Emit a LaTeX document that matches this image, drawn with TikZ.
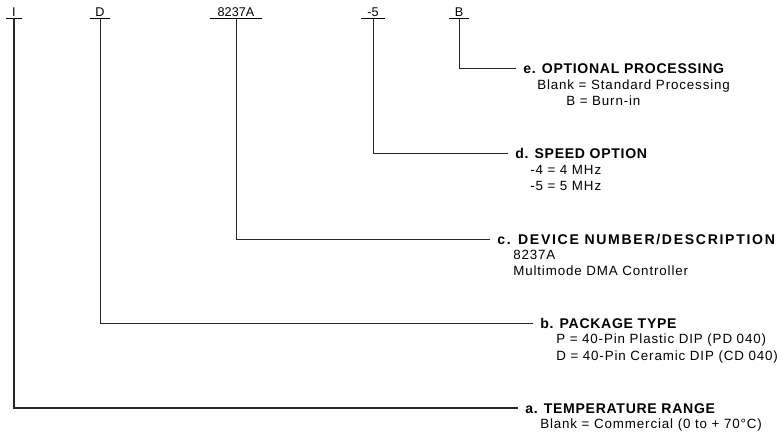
\documentclass[tikz,border=0pt]{standalone}
\usepackage{fontspec}
\setmainfont{Liberation Sans}
\newfontfamily\headfont[LetterSpace=5]{Liberation Sans}
\newfontfamily\wideheadfont[LetterSpace=12]{Liberation Sans}
\newfontfamily\notefont[LetterSpace=6.5]{Liberation Sans}
\usetikzlibrary{positioning}

\begin{document}
\begin{tikzpicture}[x=0.025cm, y=-0.025cm]
		\tikzstyle{field}=[anchor=south, inner xsep=4pt, inner ysep=1pt, font=\fontsize{9}{11}\selectfont, text height=6.5pt, text depth=0pt]
		\tikzstyle{head}=[anchor=west, inner sep=0pt, font=\headfont\bfseries\fontsize{10}{12}\selectfont, text height=7.2pt, text depth=0pt]
		\tikzstyle{note}=[anchor=west, inner sep=0pt, font=\notefont\fontsize{9.5}{11}\selectfont, text height=6.8pt, text depth=0pt]
		\tikzstyle{wire}=[draw=black!85, line width=0.5pt, shorten >=5pt]
		
		\useasboundingbox (0,0) rectangle (782,437);
		
		%% part number fields
		\node [field] (pI) at (14,18) {I};
		\node [field] (pD) at (100,18) {D};
		\node [field, inner xsep=5pt] (pN) at (236,18) {8237A};
		\node [field] (pS) at (373,18) {-5};
		\node [field] (pB) at (459,18) {B};
		\foreach \p in {pI,pD,pN,pS,pB}
		\draw [line width=0.5pt] (\p.south west) -- (\p.south east);
		
		%% e.
		\node [head] (he) at (523,68) {e. OPTIONAL PROCESSING};
		\node [note] (he1) at (537,85) {Blank = Standard Processing};
		\node [note] (he2) at (566,101) {B = Burn-in};
		
		%% d.
		\node [head] (hd) at (515,153) {d. SPEED OPTION};
		\node [note] (hd1) at (530,170) {-4 = 4 MHz};
		\node [note] (hd2) at (530,186) {-5 = 5 MHz};
		
		%% c.
		\node [head, font=\wideheadfont\bfseries\fontsize{10}{12}\selectfont] (hc) at (497,239) {c. DEVICE NUMBER/DESCRIPTION};
		\node [note] (hc1) at (513,255) {8237A};
		\node [note] (hc2) at (513,271) {Multimode DMA Controller};
		
		%% b.
		\node [head] (hb) at (540,323) {b. PACKAGE TYPE};
		\node [note] (hb1) at (556,339) {P = 40-Pin Plastic DIP (PD 040)};
		\node [note] (hb2) at (556,356) {D = 40-Pin Ceramic DIP (CD 040)};
		
		%% a.
		\node [head] (ha) at (525,408) {a. TEMPERATURE RANGE};
		\node [note] (ha1) at (540,424) {Blank = Commercial (0 to + 70°C)};
		
		\draw [wire] (pB.south) |- (he.west);
		\draw [wire] (pS.south) |- (hd.west);
		\draw [wire] (pN.south) |- (hc.west);
		\draw [wire] (pD.south) |- (hb.west);
		\draw [wire, line width=0.9pt] (pI.south) |- (ha.west);
		
\end{tikzpicture}
\end{document}
